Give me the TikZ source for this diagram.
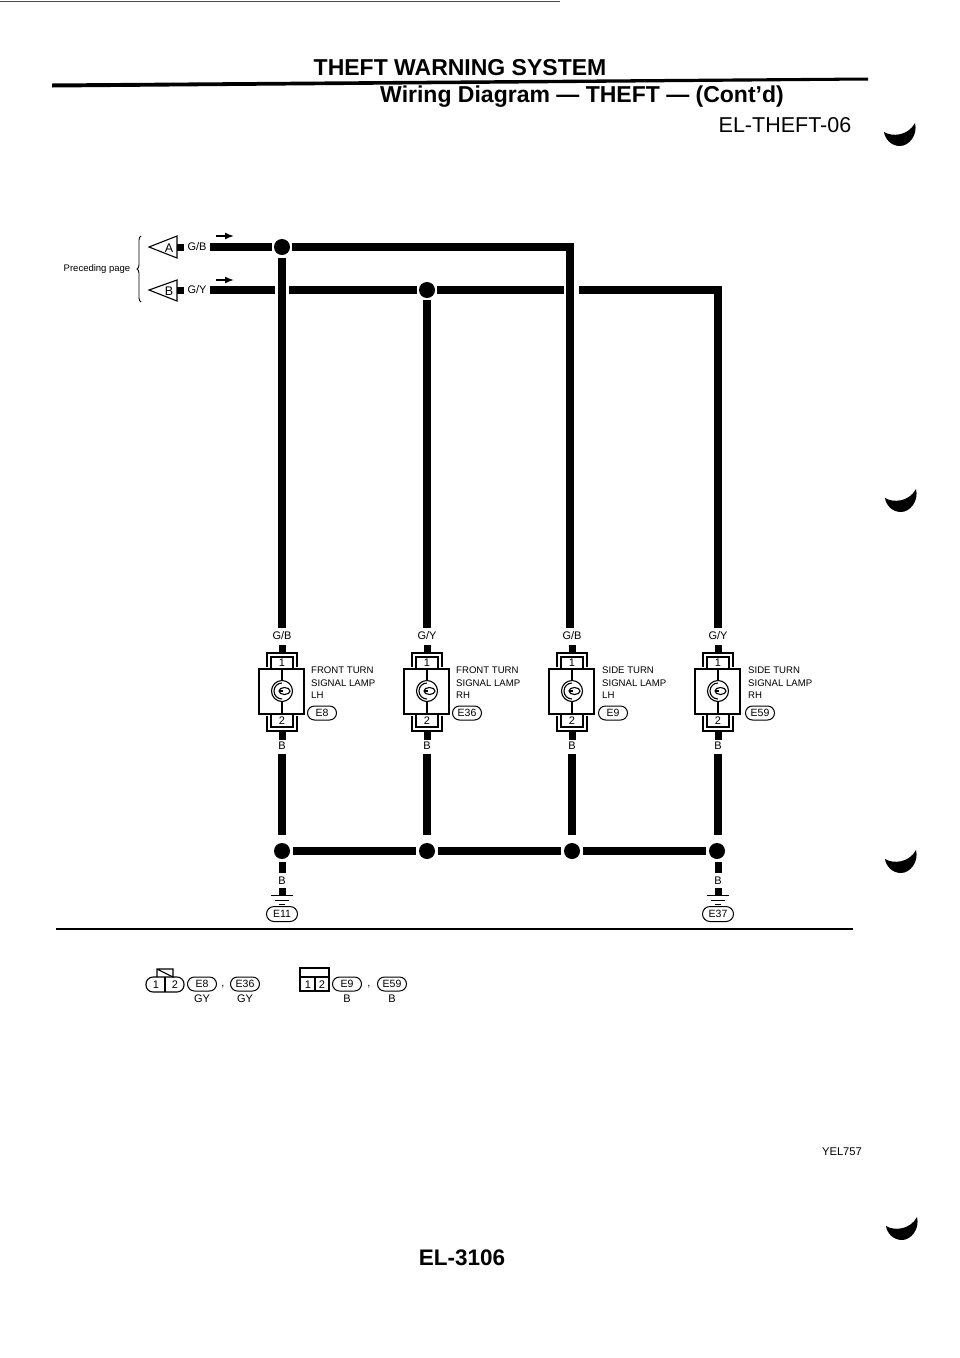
\documentclass[tikz,border=0pt]{standalone}
\usepackage{fontspec}
\setmainfont{Liberation Sans}
\usetikzlibrary{arrows.meta,shapes.misc,decorations.pathreplacing}
\tikzset{
  x=1pt,y=-1pt,
  wire/.style={line width=7.2pt,black},
  box line/.style={line width=1.1pt,black},
  dot/.style={circle,fill=black,inner sep=0pt,minimum size=16pt},
  tag/.style={draw,rounded rectangle,line width=1pt,inner sep=0pt,minimum width=29pt,minimum height=14pt,font=\fontsize{10.5}{11}\selectfont},
  small/.style={inner sep=0pt,font=\fontsize{11}{12}\selectfont},
  desc/.style={inner sep=0pt,anchor=north west,align=left,font=\fontsize{9.6}{12.2}\selectfont},
  flow/.style={line width=1.6pt,-{Latex[length=9pt,width=7pt]}},
}
\newcommand{\lampunit}[6]{%
  % #1 name, #2 x, #3 top label, #4 description, #5 tag x, #6 description x
  \node[small] (#1top) at (#2,636) {#3};
  \node[small] (#1bot) at (#2,746) {B};
  \node[desc] (#1desc) at (#6,667) {#4};
  \draw[box line] (#2-23,669) rectangle (#2+22,714);
  \draw[box line] (#2-11,669) -- (#2-11,657) -- (#2+11,657) -- (#2+11,669);
  \draw[box line] (#2-11,714) -- (#2-11,727) -- (#2+11,727) -- (#2+11,714);
  \draw[box line] (#2-15,667) -- (#2-15,653) -- (#2+15,653) -- (#2+15,667);
  \draw[box line] (#2-15,716) -- (#2-15,731) -- (#2+15,731) -- (#2+15,716);
  \node[small] at (#2,663) {1};
  \node[small] at (#2,721) {2};
  \draw[box line] (#2,669) -- (#2,714);
  \fill[white] (#2,691) circle (10.5);
  \draw[box line] (#2,691) circle (10.5);
  \draw[box line] (#2,699) arc (90:270:8);
  \draw[box line,fill=white] (#2+2.5,691) ellipse (5.5 and 3.5);
  \draw[box line] (#2-3,691) -- (#2+1,691);
  \fill (#2-3.5,645) rectangle (#2+3.5,652);
  \fill (#2-3.5,732) rectangle (#2+3.5,740);
  \node[tag] (#1tag) at (#5,713) {\csname tagtext#1\endcsname};
}
\newcommand{\hookmark}[2]{%
  \fill (#1-16,#2-3) .. controls (#1-8,#2+2) and (#1+8,#2+1) .. (#1+15,#2-12)
    .. controls (#1+18,#2) and (#1+9,#2+11) .. (#1,#2+11)
    .. controls (#1-9,#2+11) and (#1-15,#2+4) .. cycle;
}
\newcommand{\tagtextA}{E8}\newcommand{\tagtextB}{E36}\newcommand{\tagtextC}{E9}\newcommand{\tagtextD}{E59}
\begin{document}
\begin{tikzpicture}
\useasboundingbox (0,0) rectangle (960,1358);
\fill[white] (0,0) rectangle (960,1358);
\draw[line width=1pt,black!70] (0,1) -- (560,1);
% header
\node[inner sep=0pt,font=\bfseries\fontsize{23}{24}\selectfont] (title) at (460,68) {THEFT WARNING SYSTEM};
\fill (52,83.5) -- (868,77.5) -- (868,80.5) -- (52,87.5) -- cycle;
\node[inner sep=0pt,font=\bfseries\fontsize{23}{24}\selectfont] (sub) at (582,97) {Wiring Diagram — THEFT — (Cont’d)};
\node[inner sep=0pt,font=\fontsize{21.5}{22}\selectfont] (code) at (785,125) {EL-THEFT-06};
\hookmark{900}{135}\hookmark{901}{501}\hookmark{901}{862}\hookmark{902}{1229}
% preceding page
\node[inner sep=0pt,font=\fontsize{9.5}{10}\selectfont] (prec) at (97,269) {Preceding page};
\draw[line width=0.9pt,decorate,decoration={brace,amplitude=4pt,mirror,aspect=0.5}] (141,236) -- (141,302);
\draw[box line,fill=white] (149,247) -- (177,236) -- (177,258) -- cycle;
\draw[box line,fill=white] (149,290) -- (177,280) -- (177,301) -- cycle;
\node[inner sep=0pt,font=\fontsize{12.5}{13}\selectfont] (lA) at (169,248) {A};
\node[inner sep=0pt,font=\fontsize{12.5}{13}\selectfont] (lB) at (169,291) {B};
\fill (177,244) rectangle (184,251);
\fill (177,287) rectangle (184,294);
\node[small] (gb) at (197,247) {G/B};
\node[small] (gy) at (197,290) {G/Y};
\coordinate (fa1) at (216,236);\coordinate (fa2) at (234,236);
\coordinate (fb1) at (216,280);\coordinate (fb2) at (234,280);
\draw[flow] (fa1) -- (fa2);
\draw[flow] (fb1) -- (fb2);
% junctions
\node[dot] (j1) at (282,247) {};
\node[dot] (j2) at (427,290) {};
\node[dot] (k1) at (282,851) {};
\node[dot] (k2) at (427,851) {};
\node[dot] (k3) at (572,851) {};
\node[dot] (k4) at (717,851) {};
% lamps
\lampunit{A}{282}{G/B}{FRONT TURN\\SIGNAL LAMP\\LH}{322}{311}
\lampunit{B}{427}{G/Y}{FRONT TURN\\SIGNAL LAMP\\RH}{467}{456}
\lampunit{C}{572}{G/B}{SIDE TURN\\SIGNAL LAMP\\LH}{613}{602}
\lampunit{D}{718}{G/Y}{SIDE TURN\\SIGNAL LAMP\\RH}{760}{748}
% wires top
\draw[wire] (210,247) -- (272,247);
\draw[wire] (292,247) -- (573.6,247);
\draw[wire] (210,290) -- (275,290);
\draw[wire] (289,290) -- (417,290);
\draw[wire] (437,290) -- (564,290);
\draw[wire] (579,290) -- (722,290);
\draw[wire] (282,258) -- (282,628);
\draw[wire] (427,300) -- (427,628);
\draw[wire] (570,247) -- (570,628);
\draw[wire] (718,290) -- (718,628);
% wires bottom
\draw[wire] (282,754) -- (282,835);
\draw[wire] (427,754) -- (427,835);
\draw[wire] (572,754) -- (572,835);
\draw[wire] (718,754) -- (718,835);
\draw[wire] (293,851) -- (416,851);
\draw[wire] (438,851) -- (561,851);
\draw[wire] (583,851) -- (706,851);
% grounds
\foreach \n/\x/\t in {1/282/E11,2/718/E37}{
  \fill (\x-3.5,862) rectangle (\x+3.5,873);
  \node[small] (gb\n) at (\x,881) {B};
  \fill (\x-3.5,888) rectangle (\x+3.5,895);
  \draw[line width=1.4pt] (\x-11,895.5) -- (\x+11,895.5);
  \draw[line width=1.2pt] (\x-7,900.5) -- (\x+7,900.5);
  \draw[line width=1.2pt] (\x-3,904.5) -- (\x+3,904.5);
  \node[tag,minimum width=31pt,minimum height=15pt] (gt\n) at (\x,914) {\t};
}
\draw[line width=1.4pt] (56,929) -- (853,929);
% connectors legend
\draw[box line,rounded corners=7pt] (146,977) rectangle (184,992);
\draw[box line] (165,977) -- (165,992);
\draw[box line] (157,977) -- (157,969) -- (173,969) -- (173,977) -- (157,969);
\node[small] at (156,985) {1};
\node[small] at (175,985) {2};
\node[tag] (lg1) at (202,984) {E8};
\node[small] at (223,987) {,};
\node[tag] (lg2) at (245,984) {E36};
\node[small] at (202,999) {GY};
\node[small] at (245,999) {GY};
\draw[line width=1.5pt] (300,968) rectangle (329,991);
\draw[box line] (300,977) -- (329,977);
\draw[box line] (315,977) -- (315,991);
\node[small] at (308,985) {1};
\node[small] at (322,985) {2};
\node[tag] (lg3) at (347,984) {E9};
\node[small] at (369,987) {,};
\node[tag] (lg4) at (392,984) {E59};
\node[small] at (347,999) {B};
\node[small] at (392,999) {B};
% footer
\node[inner sep=0pt,font=\fontsize{11.2}{12}\selectfont] (yel) at (842,1152) {YEL757};
\node[inner sep=0pt,font=\bfseries\fontsize{22.5}{23}\selectfont] (page) at (462,1258) {EL-3106};
\end{tikzpicture}
\end{document}
